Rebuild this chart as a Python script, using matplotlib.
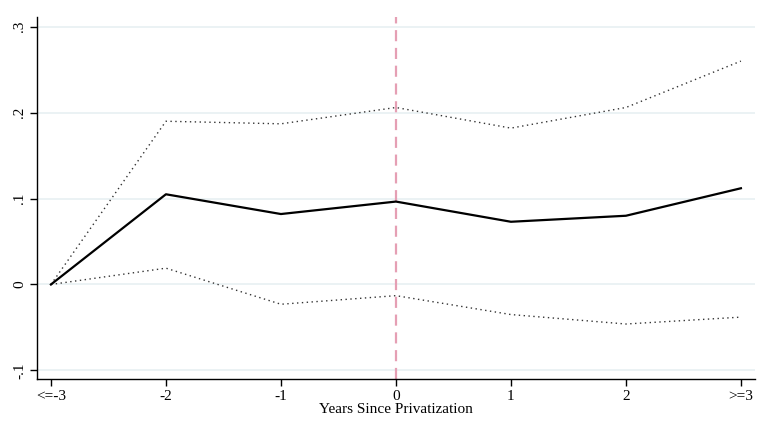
import matplotlib.pyplot as plt

# event-study estimates by year relative to privatization
years = [-3, -2, -1, 0, 1, 2, 3]
year_labels = ["<=-3", "-2", "-1", "0", "1", "2", ">=3"]
coef = [0.0, 0.105, 0.082, 0.0965, 0.073, 0.080, 0.112]
ci_upper = [0.0, 0.190, 0.187, 0.206, 0.182, 0.206, 0.260]
ci_lower = [0.0, 0.019, -0.023, -0.013, -0.035, -0.046, -0.038]

y_ticks = [-0.1, 0, 0.1, 0.2, 0.3]
y_tick_labels = ["-.1", "0", ".1", ".2", ".3"]

plt.rcParams["font.family"] = ["Liberation Serif", "DejaVu Serif"]

fig = plt.figure(figsize=(7.68, 4.32), dpi=100)
ax = fig.add_axes([0.0488, 0.1227, 0.9342, 0.8373])

for y in y_ticks:
    ax.axhline(y, color="#e8f0f2", lw=1.2, zorder=0)

ax.axvline(0, color="#e59fb4", lw=1.6, ls=(0, (5, 3)), zorder=1)

ax.plot(years, ci_upper, color="#333333", lw=1.0, ls=(0, (1, 2.5)))
ax.plot(years, ci_lower, color="#333333", lw=1.0, ls=(0, (1, 2.5)))
ax.plot(years, coef, color="black", lw=1.6)

ax.set_xlim(-3.117, 3.122)
ax.set_ylim(-0.11, 0.311)

ax.set_xticks(years)
ax.set_xticklabels(year_labels, fontsize=11)
ax.set_yticks(y_ticks)
ax.set_yticklabels(y_tick_labels, fontsize=11, rotation=90, va="center")
ax.tick_params(axis="both", length=5, width=1, color="black")
ax.tick_params(axis="x", pad=3)
ax.tick_params(axis="y", pad=3)

ax.spines["top"].set_visible(False)
ax.spines["right"].set_visible(False)
ax.spines["left"].set_linewidth(1)
ax.spines["bottom"].set_linewidth(1)

ax.set_xlabel("Years Since Privatization", fontsize=11, labelpad=0)

fig.savefig("out.png", dpi=100)
